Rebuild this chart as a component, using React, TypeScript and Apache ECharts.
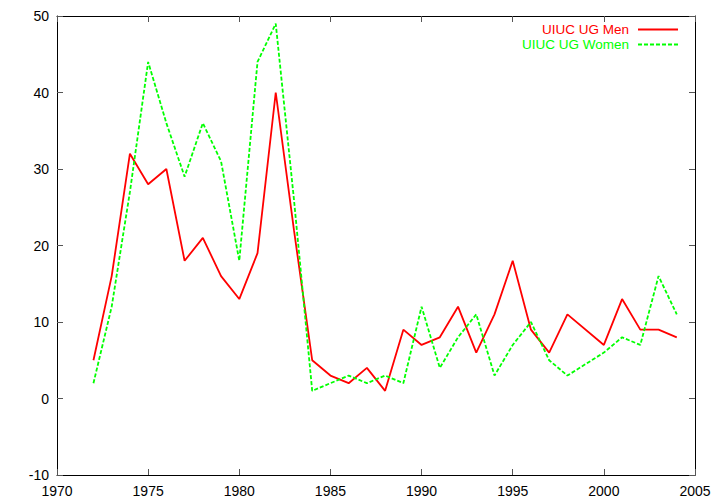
import React, { useEffect, useRef } from "react";
import * as echarts from "echarts";

const years = [1972, 1973, 1974, 1975, 1976, 1977, 1978, 1979, 1980, 1981, 1982, 1983, 1984, 1985, 1986, 1987, 1988, 1989, 1990, 1991, 1992, 1993, 1994, 1995, 1996, 1997, 1998, 2000, 2001, 2002, 2003, 2004];
const menValues = [5, 16, 32, 28, 30, 18, 21, 16, 13, 19, 40, 22, 5, 3, 2, 4, 1, 9, 7, 8, 12, 6, 11, 18, 9, 6, 11, 7, 13, 9, 9, 8];
const womenValues = [2, 12, 27, 44, 36, 29, 36, 31, 18, 44, 49, 26, 1, 2, 3, 2, 3, 2, 12, 4, 8, 11, 3, 7, 10, 5, 3, 6, 8, 7, 16, 11];
const seriesNames = ["UIUC UG Men", "UIUC UG Women"];
const seriesColors = ["#ff0000", "#00ff00"];

const FONT = "'Liberation Sans', Arial, sans-serif";

export default function App() {
  const ref = useRef<HTMLDivElement>(null);
  useEffect(() => {
    if (!ref.current) return;
    const chart = echarts.init(ref.current, undefined, { renderer: "svg" });
    const axisLine = { show: true, onZero: false, lineStyle: { color: "#000", width: 1 } };
    const axisTick = { show: true, inside: true, length: 6, lineStyle: { color: "#555", width: 1 } };
    const label = { color: "#000", fontSize: 14, fontFamily: FONT };
    chart.setOption({
      animation: false,
      backgroundColor: "#fff",
      grid: { left: 57, right: 25, top: 16, bottom: 29, containLabel: false },
      legend: {
        orient: "vertical",
        right: 41,
        top: 22,
        align: "right",
        padding: 0,
        itemGap: 0,
        itemWidth: 40,
        itemHeight: 15,
        selectedMode: false,
        itemStyle: { opacity: 0 },
        textStyle: { fontSize: 13.5, fontFamily: FONT, lineHeight: 15, padding: [0, 4, 0, 0] },
        data: seriesNames.map((n, i) => ({ name: n, textStyle: { color: seriesColors[i] } })),
      },
      xAxis: [
        {
          type: "value",
          min: 1970,
          max: 2005,
          interval: 5,
          position: "bottom",
          axisLine,
          axisTick,
          splitLine: { show: false },
          axisLabel: { ...label, margin: 9, formatter: (v: number) => String(v) },
        },
        {
          type: "value",
          min: 1970,
          max: 2005,
          interval: 5,
          position: "top",
          axisLine,
          axisTick,
          splitLine: { show: false },
          axisLabel: { show: false },
        },
      ],
      yAxis: [
        {
          type: "value",
          min: -10,
          max: 50,
          interval: 10,
          position: "left",
          axisLine,
          axisTick,
          splitLine: { show: false },
          axisLabel: { ...label, margin: 8 },
        },
        {
          type: "value",
          min: -10,
          max: 50,
          interval: 10,
          position: "right",
          axisLine,
          axisTick,
          splitLine: { show: false },
          axisLabel: { show: false },
        },
      ],
      series: [
        {
          name: seriesNames[0],
          type: "line",
          symbol: "none",
          data: years.map((y, i) => [y, menValues[i]]),
          lineStyle: { color: seriesColors[0], width: 1.8, type: "solid" },
          itemStyle: { color: seriesColors[0] },
        },
        {
          name: seriesNames[1],
          type: "line",
          symbol: "none",
          data: years.map((y, i) => [y, womenValues[i]]),
          lineStyle: { color: seriesColors[1], width: 1.8, type: [4, 2] },
          itemStyle: { color: seriesColors[1] },
        },
      ],
    });
    return () => chart.dispose();
  }, []);
  return (
    <div
      ref={ref}
      style={{ position: "fixed", left: 0, top: 0, width: 720, height: 504, background: "#fff" }}
    />
  );
}
